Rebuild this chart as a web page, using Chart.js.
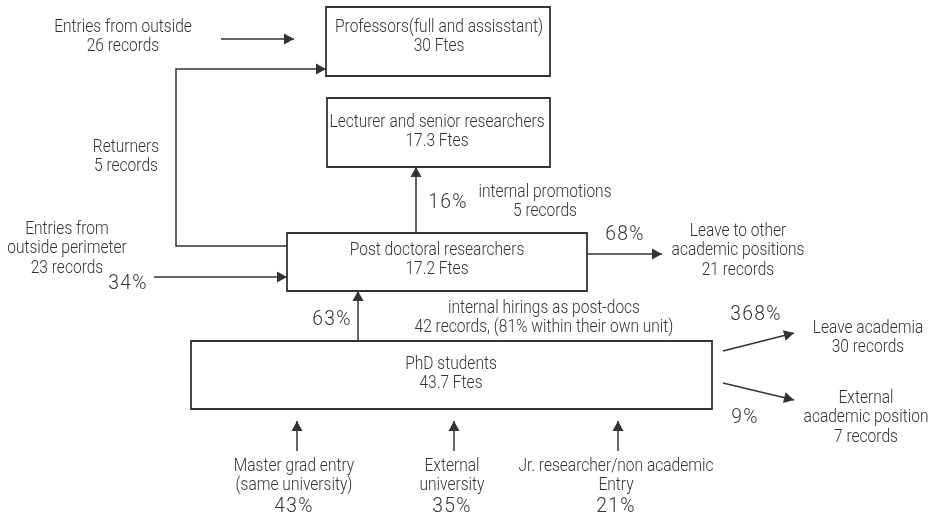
<!DOCTYPE html>
<html>
<head>
<meta charset="utf-8">
<script src="https://cdn.jsdelivr.net/npm/chart.js@4.4.1/dist/chart.umd.min.js"></script>
<style>
  html, body { margin: 0; padding: 0; background: #ffffff; }
  #wrap { width: 936px; height: 522px; }
</style>
</head>
<body>
<div id="wrap"><canvas id="c" width="936" height="522"></canvas></div>
<script>
// ---------------- DATA ----------------
const nodeNames = ["Professors(full and assisstant)", "Lecturer and senior researchers", "Post doctoral researchers", "PhD students"];
const nodeFtes = [30, 17.3, 17.2, 43.7];

const flowNames = [
  ["Entries from outside"],
  ["Returners"],
  ["Entries from", "outside perimeter"],
  ["internal promotions"],
  ["Leave to other", "academic positions"],
  ["internal hirings as post-docs"],
  ["Leave academia"],
  ["External", "academic position"],
  ["Master grad entry", "(same university)"],
  ["External", "university"],
  ["Jr. researcher/non academic", "Entry"]
];
const flowRecords = [26, 5, 23, 5, 21, 42, 30, 7, null, null, null];
const flowNotes = ["", "", "", "", "", ", (81% within their own unit)", "", "", "", "", ""];
const flowPercents = [null, null, 34, 16, 68, 63, 368, 9, 43, 35, 21];

// ---------------- LAYOUT (diagram geometry, in axis units) ----------------
const boxLayout = [
  [326, 7, 550, 76],
  [327, 98, 550, 167],
  [287, 233, 587, 291],
  [191, 341, 712, 409]
];
const nodeTextLayout = [[439, 27], [437, 122], [437, 250], [451, 364]];

const arrowLayout = [
  [[221, 39], [294, 39]],
  [[287, 246], [176, 246], [176, 69], [326, 69]],
  [[154, 277], [287, 277]],
  [[416, 233], [416, 167]],
  [[587, 254], [662, 254]],
  [[358, 341], [358, 291]],
  [[723, 351], [794, 333]],
  [[723, 383], [794, 400]],
  [[297, 451], [297, 421]],
  [[454, 451], [454, 421]],
  [[618, 451], [618, 421]]
];
const flowTextLayout = [
  [123, 27], [126, 147], [67, 229], [545, 192], [738, 231],
  [544, 308], [868, 328], [866, 398], [294, 466], [452, 466], [616, 466]
];
const pctLayout = [
  null, null, [128, 284], [448, 203], [625, 235],
  [332, 320], [756, 315], [745, 418], [294, 507], [452, 507], [616, 507]
];

// ---------------- STYLE ----------------
const INK = '#333333';
const TEXT = '#333333';
const FAMILY = "Roboto, 'Liberation Sans', 'DejaVu Sans', sans-serif";
const WEIGHT = '300';
const LABEL_SIZE = 18;
const PCT_SIZE = 21;
const LINE_H = 19.7;
const LABEL_REF = ["Professors(full and assisstant)", 208];   // reference string, width in px
const PCT_REF = ["368", 32];                                    // digits width in px

// ---------------- BUILD ----------------
const datasets = [];
boxLayout.forEach((b) => {
  datasets.push({
    data: [{x: b[0], y: b[1]}, {x: b[2], y: b[1]}, {x: b[2], y: b[3]}, {x: b[0], y: b[3]}, {x: b[0], y: b[1]}],
    showLine: true, borderColor: INK, borderWidth: 1.8, pointRadius: 0, fill: false,
    borderJoinStyle: 'miter', borderCapStyle: 'square'
  });
});
arrowLayout.forEach((a) => {
  datasets.push({
    data: a.map(p => ({x: p[0], y: p[1]})),
    showLine: true, borderColor: INK, borderWidth: 1.5, pointRadius: 0, fill: false,
    borderJoinStyle: 'miter', isArrow: true
  });
});

function buildNodeLines(i) {
  return [nodeNames[i], nodeFtes[i] + ' Ftes'];
}
function buildFlowLines(i) {
  const lines = flowNames[i].slice();
  if (flowRecords[i] !== null) lines.push(flowRecords[i] + ' records' + flowNotes[i]);
  return lines;
}

function drawCondensed(ctx, text, x, y, sx) {
  ctx.save();
  ctx.translate(x, y);
  ctx.scale(sx, 1);
  ctx.fillText(text, 0, 0);
  ctx.restore();
}

const diagramPlugin = {
  id: 'diagram',
  afterDatasetsDraw(chart) {
    const ctx = chart.ctx;
    const xs = chart.scales.x, ys = chart.scales.y;
    const px = v => xs.getPixelForValue(v);
    const py = v => ys.getPixelForValue(v);
    ctx.save();
    // arrowheads
    chart.data.datasets.forEach((ds) => {
      if (!ds.isArrow) return;
      const n = ds.data.length;
      const p1 = ds.data[n - 2], p2 = ds.data[n - 1];
      const x1 = px(p1.x), y1 = py(p1.y), x2 = px(p2.x), y2 = py(p2.y);
      const ang = Math.atan2(y2 - y1, x2 - x1);
      const L = 10, W = 5.5;
      ctx.fillStyle = INK;
      ctx.beginPath();
      ctx.moveTo(x2, y2);
      ctx.lineTo(x2 - L * Math.cos(ang) + W * Math.sin(ang), y2 - L * Math.sin(ang) - W * Math.cos(ang));
      ctx.lineTo(x2 - L * Math.cos(ang) - W * Math.sin(ang), y2 - L * Math.sin(ang) + W * Math.cos(ang));
      ctx.closePath();
      ctx.fill();
    });
    // texts
    ctx.fillStyle = TEXT;
    ctx.textAlign = 'center';
    ctx.textBaseline = 'middle';
    ctx.font = WEIGHT + ' ' + LABEL_SIZE + 'px ' + FAMILY;
    const sxL = LABEL_REF[1] / ctx.measureText(LABEL_REF[0]).width;
    nodeNames.forEach((_, i) => {
      const [cx, cy] = nodeTextLayout[i];
      buildNodeLines(i).forEach((t, k) => drawCondensed(ctx, t, px(cx), py(cy + k * LINE_H), sxL));
    });
    flowNames.forEach((_, i) => {
      const [cx, cy] = flowTextLayout[i];
      buildFlowLines(i).forEach((t, k) => drawCondensed(ctx, t, px(cx), py(cy + k * LINE_H), sxL));
    });
    ctx.font = WEIGHT + ' ' + PCT_SIZE + 'px ' + FAMILY;
    const sxP = PCT_REF[1] / ctx.measureText(PCT_REF[0]).width;
    try { ctx.letterSpacing = '1.5px'; } catch (e) {}
    flowPercents.forEach((v, i) => {
      if (v === null || !pctLayout[i]) return;
      const [cx, cy] = pctLayout[i];
      drawCondensed(ctx, v + '%', px(cx), py(cy), sxP);
    });
    ctx.restore();
  }
};

new Chart(document.getElementById('c'), {
  type: 'scatter',
  data: { datasets },
  options: {
    responsive: false,
    animation: false,
    devicePixelRatio: 1,
    layout: { padding: 0 },
    elements: { line: { tension: 0 } },
    plugins: { legend: { display: false }, tooltip: { enabled: false } },
    scales: {
      x: { type: 'linear', min: 0, max: 936, display: false },
      y: { type: 'linear', min: 0, max: 522, reverse: true, display: false }
    }
  },
  plugins: [diagramPlugin]
});
</script>
</body>
</html>
